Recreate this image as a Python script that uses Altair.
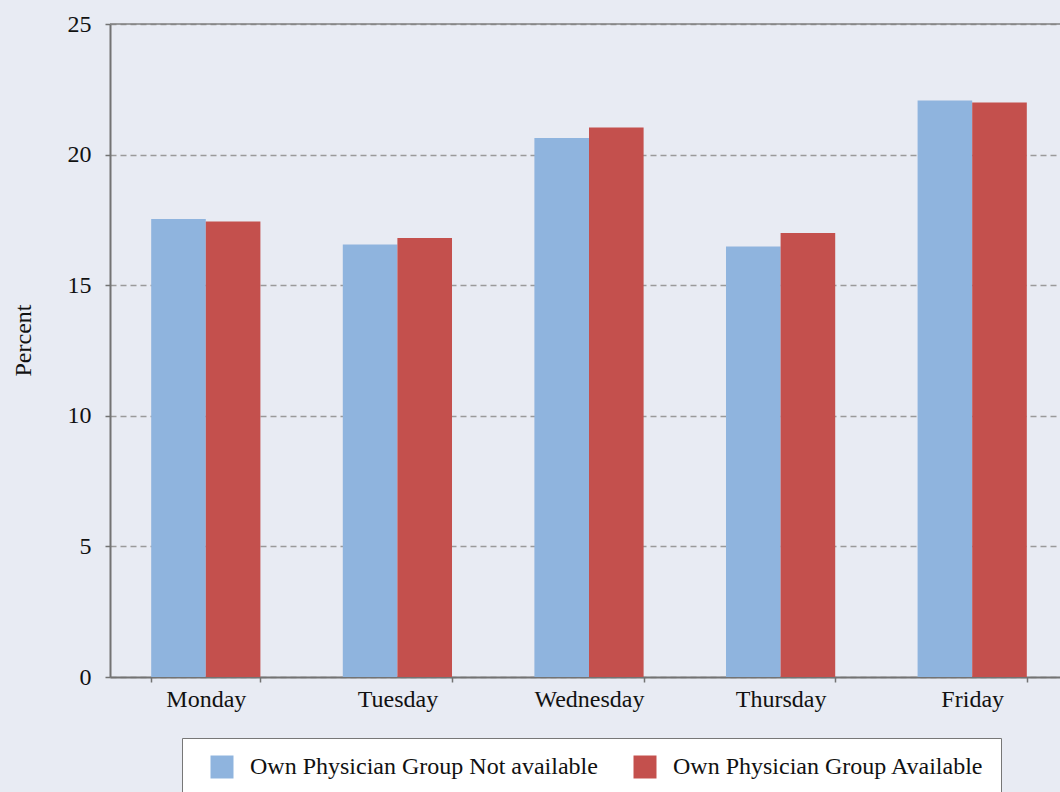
import altair as alt
import pandas as pd

# Share of admissions by weekday, split by availability of own physician group
days = ["Monday", "Tuesday", "Wednesday", "Thursday", "Friday"]
not_available = [17.53, 16.56, 20.64, 16.48, 22.07]
available = [17.44, 16.81, 21.04, 17.00, 21.99]
series = ["Own Physician Group Not available", "Own Physician Group Available"]
colors = ["#8FB4DE", "#C4504D"]
y_ticks = [0, 5, 10, 15, 20, 25]

rows = []
for d, a, b in zip(days, not_available, available):
    rows.append({"day": d, "group": series[0], "percent": a})
    rows.append({"day": d, "group": series[1], "percent": b})
df = pd.DataFrame(rows)

FONT = "Liberation Serif"
FS = 24
AXIS_COLOR = "#737373"

bars = alt.Chart(df).mark_bar(stroke=None).encode(
    x=alt.X(
        "day:N",
        sort=days,
        title=None,
        scale=alt.Scale(range=[0, 958], paddingInner=0.43, paddingOuter=0.215),
        axis=alt.Axis(
            labelAngle=0,
            labelFont=FONT,
            labelFontSize=FS,
            labelColor="#111111",
            labelPadding=5,
            tickBand="extent",
            tickSize=5,
            tickColor=AXIS_COLOR,
            tickWidth=1.5,
            domainColor=AXIS_COLOR,
            domainWidth=2,
            grid=False,
        ),
    ),
    xOffset=alt.XOffset("group:N", sort=series),
    y=alt.Y(
        "percent:Q",
        title="Percent",
        scale=alt.Scale(domain=[0, 25], nice=False),
        axis=alt.Axis(
            values=y_ticks,
            labelFont=FONT,
            labelFontSize=FS,
            labelColor="#111111",
            labelPadding=14,
            tickSize=5,
            tickColor=AXIS_COLOR,
            tickWidth=1.5,
            domainColor=AXIS_COLOR,
            domainWidth=2,
            grid=True,
            gridColor="#9A9A9A",
            gridDash=[6, 4],
            gridWidth=1.5,
            titleFont=FONT,
            titleFontSize=FS,
            titleFontWeight="normal",
            titleColor="#111111",
            titleX=-80,
            titleY=316,
            titleBaseline="alphabetic",
        ),
    ),
    color=alt.Color(
        "group:N",
        sort=series,
        scale=alt.Scale(domain=series, range=colors),
        legend=alt.Legend(
            title=None,
            orient="none",
            legendX=72,
            legendY=714,
            direction="horizontal",
            columns=2,
            symbolType="square",
            symbolSize=529,
            symbolStrokeWidth=0,
            labelFont=FONT,
            labelFontSize=FS,
            labelColor="#111111",
            labelOffset=16,
            columnPadding=24,
            padding=17,
            symbolOffset=11,
            fillColor="#FFFFFF",
            strokeColor="#777777",
            labelLimit=500,
        ),
    ),
)

top_line = alt.Chart(pd.DataFrame({"v": [25]})).mark_rule(
    color="#808080", strokeWidth=1.5
).encode(y="v:Q")

chart = (
    alt.layer(bars, top_line)
    .properties(
        width=950,
        height=653,
        background="#E8EBF3",
        autosize=alt.AutoSizeParams(type="none"),
        padding={"left": 110, "top": 24, "right": 0, "bottom": 115},
    )
    .configure_view(stroke=None)
)

chart.save("out.html", embed_options={"renderer": "svg", "actions": False})
